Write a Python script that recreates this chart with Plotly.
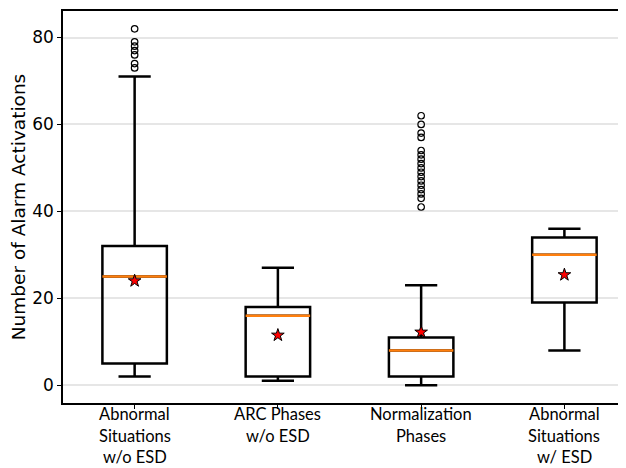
import plotly.graph_objects as go

categories = ["Abnormal<br>Situations<br>w/o ESD", "ARC Phases<br>w/o ESD",
              "Normalization<br>Phases", "Abnormal<br>Situations<br>w/ ESD"]
positions = [1, 2, 3, 4]
lower_whisker = [2, 1, 0, 8]
q1 = [5, 2, 2, 19]
median = [25, 16, 8, 30]
q3 = [32, 18, 11, 34]
upper_whisker = [71, 27, 23, 36]
mean = [24, 11.5, 12.2, 25.4]
outliers = [
    [82, 79, 78, 77, 76, 74, 73],
    [],
    [62, 60, 58, 57, 54, 53, 52, 51, 50, 49, 48, 47, 46, 45, 44, 43, 41],
    [],
]
yticks = [0, 20, 40, 60, 80]

BOX_W = 0.45
fig = go.Figure()
for i, p in enumerate(positions):
    fig.add_trace(go.Box(
        x=[p], q1=[q1[i]], median=[median[i]], q3=[q3[i]],
        lowerfence=[lower_whisker[i]], upperfence=[upper_whisker[i]],
        width=BOX_W, whiskerwidth=0.5, fillcolor="rgba(255,255,255,0)",
        line=dict(color="black", width=2.5), boxpoints=False,
        showlegend=False, hoverinfo="skip"))
    fig.add_trace(go.Scatter(
        x=[p - BOX_W / 2, p + BOX_W / 2], y=[median[i], median[i]], mode="lines",
        line=dict(color="#ff7f0e", width=2.5), showlegend=False, hoverinfo="skip"))
    if outliers[i]:
        fig.add_trace(go.Scatter(
            x=[p] * len(outliers[i]), y=outliers[i], mode="markers",
            marker=dict(symbol="circle-open", size=6.5, color="black", line=dict(width=1.2)),
            showlegend=False, hoverinfo="skip"))

fig.add_trace(go.Scatter(
    x=positions, y=mean, mode="markers",
    marker=dict(symbol="star", size=9.5, color="red", line=dict(color="black", width=1)),
    showlegend=False, hoverinfo="skip"))

# multi-line category labels, one annotation per line
LINE_GAP = 21.5
for p, lab in zip(positions, categories):
    for k, line in enumerate(lab.split("<br>")):
        fig.add_annotation(x=p, y=0, xref="x", yref="paper", text=line,
                           showarrow=False, xanchor="center", yanchor="middle",
                           yshift=-(11 + LINE_GAP * k), borderpad=0,
                           font=dict(family="Lato", size=16.5, color="black"))

fig.update_layout(
    width=618, height=460, plot_bgcolor="white", paper_bgcolor="white",
    margin=dict(l=55, r=0, t=3, b=65),
    xaxis=dict(range=[0.5, 4.43], tickvals=positions, showticklabels=False,
               showline=True, linecolor="black", linewidth=1.5, mirror=True,
               ticks="outside", ticklen=4, tickcolor="black", showgrid=False,
               zeroline=False),
    yaxis=dict(range=[-4.1, 86.1], tickvals=yticks,
               showline=True, linecolor="black", linewidth=1.5,
               ticks="outside", ticklen=4, tickcolor="black",
               showgrid=True, gridcolor="#e6e6e6", gridwidth=1.5, zeroline=False,
               tickfont=dict(family="DejaVu Sans", size=17, color="black"),
               title=dict(text="Number of Alarm Activations", standoff=6,
                          font=dict(family="DejaVu Sans", size=18.5, color="black"))),
)
fig.write_html("out.html")
